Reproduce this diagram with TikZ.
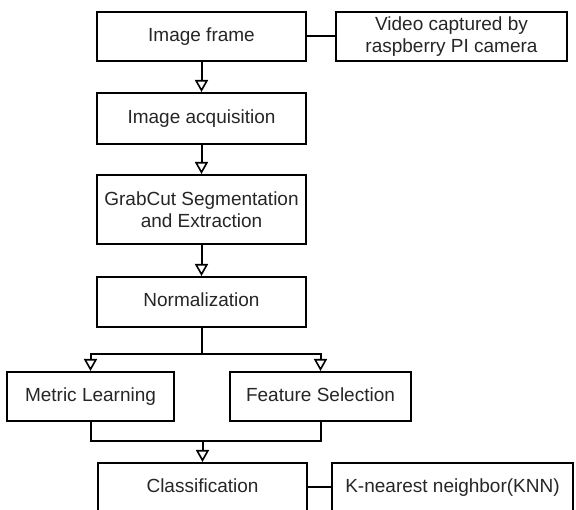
\documentclass[tikz,border=0pt]{standalone}
\usepackage{fontspec}
\setmainfont{Liberation Sans}
\usetikzlibrary{arrows.meta}
\begin{document}
\begin{tikzpicture}[x=1pt,y=-1pt,
  box/.style={draw=black, line width=2pt, fill=white, inner sep=0pt, align=center,
    font=\fontsize{19}{22}\selectfont, text=black!85},
  oneline/.style={box, text height=14pt, text depth=4pt},
  link/.style={draw=black, line width=2pt},
  arr/.style={link, -{Triangle[open, width=13pt, length=12pt, line width=1.6pt]}}]
\useasboundingbox (0,0) rectangle (576,510);
\clip (0,0) rectangle (576,510);
\fill[white] (0,0) rectangle (576,510);
\node[oneline, minimum width=209pt, minimum height=49pt] (frame) at (201.5,36.5) {Image frame};
\node[box, minimum width=231pt, minimum height=49pt] (video) at (451.5,36.5) {Video captured by\\raspberry PI camera};
\node[oneline, minimum width=209pt, minimum height=51pt] (acq) at (201.5,118.5) {Image acquisition};
\node[box, minimum width=209pt, minimum height=69pt] (grab) at (201.5,209.5) {GrabCut Segmentation\\and Extraction};
\node[oneline, minimum width=209pt, minimum height=50pt] (norm) at (201.5,302) {Normalization};
\node[oneline, minimum width=167pt, minimum height=49pt] (metric) at (90.5,396.5) {Metric Learning};
\node[oneline, minimum width=181pt, minimum height=49pt] (feat) at (320.5,396.5) {Feature Selection};
\node[oneline, minimum width=209pt, minimum height=49pt] (class) at (202.5,487.5) {Classification};
\node[oneline, minimum width=241pt, minimum height=49pt] (knn) at (452.5,487.5) {K-nearest neighbor(KNN)};
\coordinate (split) at (201.5,354);
\coordinate (merge) at (202.5,441);
\draw[link] (frame.east) -- (video.west);
\draw[arr] (frame.south) -- (acq.north);
\draw[arr] (acq.south) -- (grab.north);
\draw[arr] (grab.south) -- (norm.north);
\draw[link] (norm.south) -- (split);
\draw[arr] (split) -| (metric.north);
\draw[arr] (split) -| (feat.north);
\draw[link] (metric.south) |- (merge);
\draw[link] (feat.south) |- (merge);
\draw[arr] (merge) -- (class.north);
\draw[link] (class.east) -- (knn.west);
\end{tikzpicture}
\end{document}
